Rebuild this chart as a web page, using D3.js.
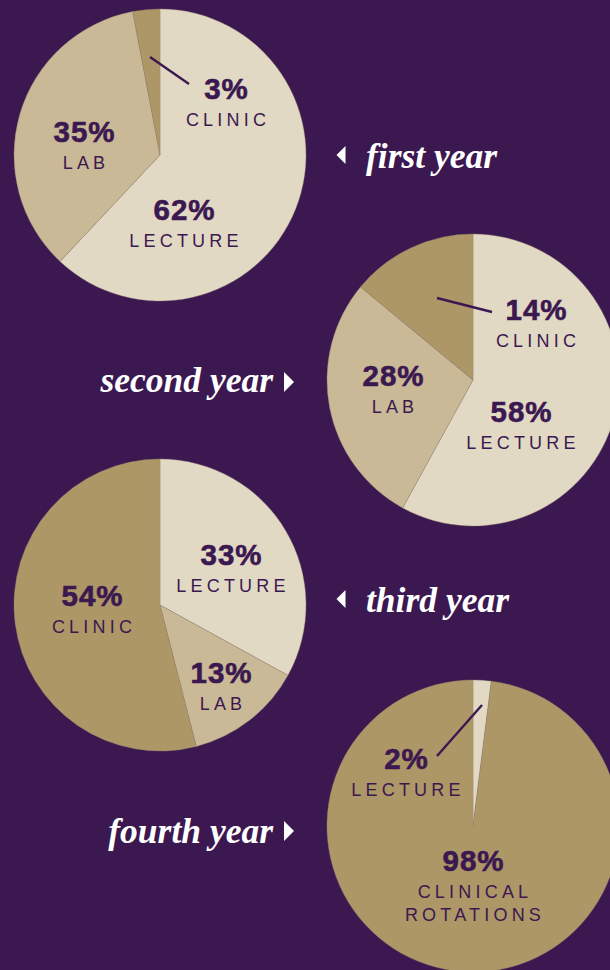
<!DOCTYPE html>
<html>
<head>
<meta charset="utf-8">
<script src="https://cdn.jsdelivr.net/npm/d3@7"></script>
<style>
  html, body { margin: 0; padding: 0; background: #3b1850; }
  svg { display: block; }
</style>
</head>
<body>
<script>
// ---- data ----
const years = ["first year", "second year", "third year", "fourth year"];
const categories = ["LECTURE", "LAB", "CLINIC"];
const lecture = [62, 58, 33, 2];
const lab = [35, 28, 13, 0];
const clinic = [3, 14, 54, 98];
const clinicNames = ["CLINIC", "CLINIC", "CLINIC", "CLINICAL ROTATIONS"];

// ---- layout (positions & styles) ----
const W = 610, H = 970, R = 146;
const colors = { LECTURE: "#e2d9c5", LAB: "#c9b996", CLINIC: "#ad9766" };
const textColor = "#3b1850";
const layout = [
  { cx: 160, cy: 155, title: { x: 366, y: 168, side: "left", tri: 341, ty: 155 },
    labels: { LECTURE: [184, 220], LAB: [84, 142], CLINIC: [226, 99] },
    leader: [[150, 57], [189, 84]] },
  { cx: 473, cy: 380, title: { x: 273, y: 392, side: "right", tri: 289, ty: 382 },
    labels: { LECTURE: [521, 422], LAB: [393, 386], CLINIC: [536, 320] },
    leader: [[437, 298], [492, 312]] },
  { cx: 160, cy: 605, title: { x: 366, y: 612, side: "left", tri: 341, ty: 599 },
    labels: { LECTURE: [231, 565], LAB: [221, 683], CLINIC: [92, 606] },
    leader: null },
  { cx: 473, cy: 826, title: { x: 273, y: 843, side: "right", tri: 289, ty: 831 },
    labels: { LECTURE: [406, 769], LAB: null, CLINIC: [473, 871] },
    leader: [[482, 705], [437, 756]] }
];

const svg = d3.select("body").append("svg").attr("width", W).attr("height", H);
svg.append("rect").attr("width", W).attr("height", H).attr("fill", "#3b1850");

const pie = d3.pie().sort(null).value(d => d.value);
const arc = d3.arc().innerRadius(0).outerRadius(R);

years.forEach((yr, i) => {
  const L = layout[i];
  const rows = [
    { key: "LECTURE", name: "LECTURE", value: lecture[i] },
    { key: "LAB", name: "LAB", value: lab[i] },
    { key: "CLINIC", name: clinicNames[i], value: clinic[i] }
  ].filter(d => d.value > 0);

  const g = svg.append("g").attr("transform", `translate(${L.cx},${L.cy})`);
  g.selectAll("path").data(pie(rows)).join("path")
    .attr("d", arc)
    .attr("fill", d => colors[d.data.key])
    .attr("stroke", "#9c8c74")
    .attr("stroke-width", 0.4);

  // leader line
  if (L.leader) {
    svg.append("line")
      .attr("x1", L.leader[0][0]).attr("y1", L.leader[0][1])
      .attr("x2", L.leader[1][0]).attr("y2", L.leader[1][1])
      .attr("stroke", textColor).attr("stroke-width", 2.4);
  }

  // labels
  rows.forEach(r => {
    const p = L.labels[r.key];
    if (!p) return;
    svg.append("text")
      .attr("x", p[0] + 0.5).attr("y", p[1])
      .attr("text-anchor", "middle")
      .attr("font-family", "'Liberation Sans', Arial, sans-serif")
      .attr("font-weight", "bold")
      .attr("font-size", 29.5)
      .attr("letter-spacing", 1)
      .attr("fill", textColor)
      .attr("stroke", textColor)
      .attr("stroke-width", 0.6)
      .text(r.value + "%");
    const words = r.name.split(" ");
    words.forEach((w, k) => {
      svg.append("text")
        .attr("x", p[0] + 2).attr("y", p[1] + 27 + k * 23)
        .attr("text-anchor", "middle")
        .attr("font-family", "'Liberation Sans', Arial, sans-serif")
        .attr("font-size", 18)
        .attr("letter-spacing", 4.2)
        .attr("fill", textColor)
        .text(w);
    });
  });

  // title
  const T = L.title;
  svg.append("text")
    .attr("x", T.x).attr("y", T.y)
    .attr("text-anchor", T.side === "left" ? "start" : "end")
    .attr("font-family", "'Liberation Serif', 'Times New Roman', serif")
    .attr("font-style", "italic")
    .attr("font-weight", "bold")
    .attr("font-size", 35.5)
    .attr("fill", "#ffffff")
    .text(yr);
  const ty = T.ty;
  const tri = T.side === "left"
    ? `M${T.tri + 4.5},${ty - 9} L${T.tri - 4.5},${ty} L${T.tri + 4.5},${ty + 9} Z`
    : `M${T.tri - 5},${ty - 10} L${T.tri + 5},${ty} L${T.tri - 5},${ty + 10} Z`;
  svg.append("path").attr("d", tri).attr("fill", "#ffffff");
});
</script>
</body>
</html>
